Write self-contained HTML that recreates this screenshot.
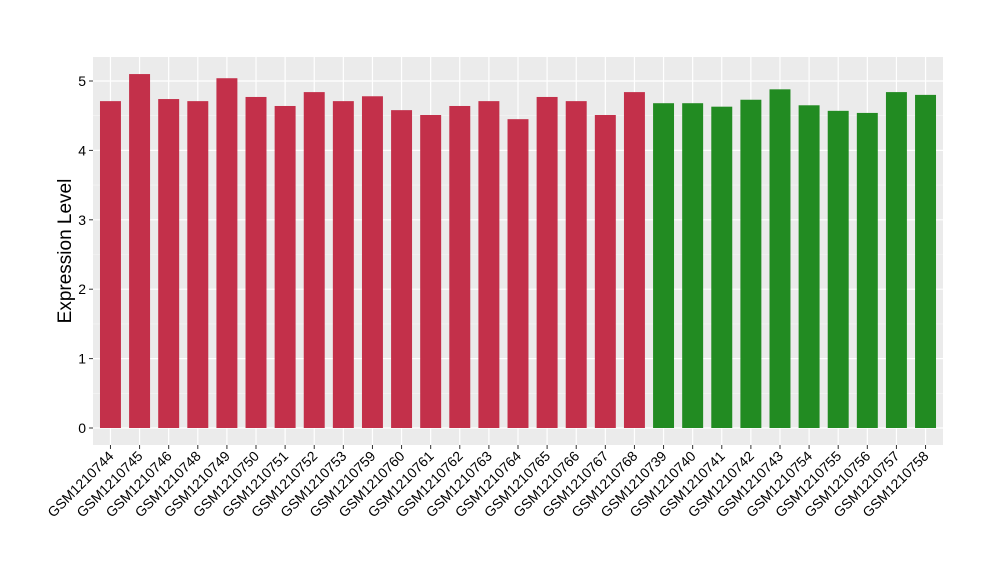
<!DOCTYPE html>
<html><head><meta charset="utf-8"><style>
body{margin:0;background:#fff;font-family:"Liberation Sans",sans-serif}
</style></head><body>
<svg id="chart" width="1000" height="580" xmlns="http://www.w3.org/2000/svg">
<rect x="93" y="57" width="850" height="388" fill="#EBEBEB"/>
<g id="grid"></g><g id="bars"></g><g id="axes"></g>
<text transform="translate(71,251) rotate(-90)" text-anchor="middle" font-size="19" fill="#000">Expression Level</text>
</svg>
<script>
const categories=["GSM1210744","GSM1210745","GSM1210746","GSM1210748","GSM1210749","GSM1210750","GSM1210751","GSM1210752","GSM1210753","GSM1210759","GSM1210760","GSM1210761","GSM1210762","GSM1210763","GSM1210764","GSM1210765","GSM1210766","GSM1210767","GSM1210768","GSM1210739","GSM1210740","GSM1210741","GSM1210742","GSM1210743","GSM1210754","GSM1210755","GSM1210756","GSM1210757","GSM1210758"];
const values=[4.71,5.10,4.74,4.71,5.04,4.77,4.64,4.84,4.71,4.78,4.58,4.51,4.64,4.71,4.45,4.77,4.71,4.51,4.84,4.68,4.68,4.63,4.73,4.88,4.65,4.57,4.54,4.84,4.80];
const groups=["a","a","a","a","a","a","a","a","a","a","a","a","a","a","a","a","a","a","a","b","b","b","b","b","b","b","b","b","b"];
const yTicks=[0,1,2,3,4,5];
const NS="http://www.w3.org/2000/svg";
const px0=93,pw=850,py0=57,ph=388;
const step=pw/(categories.length-1+1.2);
function x(i){return px0+0.6*step+i*step;}
function y(v){return 428-v*69.4;}
function mk(t,a,p){const e=document.createElementNS(NS,t);for(const k in a)e.setAttribute(k,a[k]);p.appendChild(e);return e;}
const grid=document.getElementById('grid'),bars=document.getElementById('bars'),axes=document.getElementById('axes');
for(let k=0;k<yTicks.length-1;k++){const g=mk('line',{x1:px0,x2:px0+pw,y1:y(yTicks[k]+0.5),y2:y(yTicks[k]+0.5),stroke:'#F6F6F6','stroke-width':0.6},grid);

}
yTicks.forEach(t=>{const g=mk('line',{x1:px0,x2:px0+pw,y1:y(t),y2:y(t),stroke:'#fff','stroke-width':1.2},grid);


const tk=mk('line',{x1:px0-4,x2:px0,y1:y(t),y2:y(t),stroke:'#333'},axes);


const lb=mk('text',{x:px0-7,y:y(t)+5,'text-anchor':'end','font-size':14,fill:'#000'},axes);lb.textContent=t;

});
categories.forEach((c,i)=>{const gl=mk('line',{x1:x(i),x2:x(i),y1:py0,y2:py0+ph,stroke:'#fff','stroke-width':1.2},grid);


const bw=step*0.72;
const b=mk('rect',{x:x(i)-bw/2,y:y(values[i]),width:bw,height:y(0)-y(values[i]),fill:groups[i]==='a'?'#C3304A':'#228B22'},bars);


const tk=mk('line',{x1:x(i),x2:x(i),y1:py0+ph,y2:py0+ph+4,stroke:'#333'},axes);


const lb=mk('text',{transform:`translate(${x(i)+4},${py0+ph+12}) rotate(-45)`,'text-anchor':'end','font-size':14,fill:'#000'},axes);lb.textContent=c;

});
</script>
</body></html>
